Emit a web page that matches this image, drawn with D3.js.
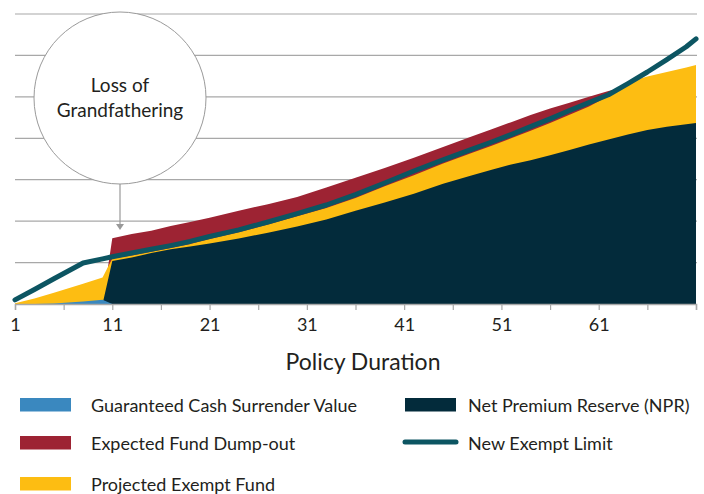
<!DOCTYPE html>
<html>
<head>
<meta charset="utf-8">
<script src="https://cdn.jsdelivr.net/npm/d3@7"></script>
<style>
  body { margin: 0; background: #fff; }
  text { font-family: "Lato", "Open Sans", sans-serif; fill: #231f20; }
</style>
</head>
<body>
<div id="chart"></div>
<script>
// policy years (x) and the values (arbitrary units, one gridline = 100)
var years      = [1, 3, 5, 8, 10, 11, 13, 15, 17, 19, 21, 24, 27, 30, 33, 36, 39, 42, 45, 48, 50, 52, 54, 56, 58, 60, 62, 64, 66, 68, 70, 71];
var dumpOut    = [0, 0, 0, 0, 0, 159, 169, 177, 188, 198, 208, 225, 241, 258, 281, 305, 328, 353, 379, 405, 422, 439, 456, 472, 486, 500, 514, 525, 543, 553, 563, 568];
var exemptFund = [2, 13, 27, 49, 64, 110, 117, 126, 135, 145, 157, 173, 192, 212, 232, 256, 284, 311, 339, 365, 382, 400, 418, 437, 457, 477, 502, 535, 549, 560, 571, 577];
var npr        = [0, 0, 0, 0, 0, 104, 112, 123, 132, 139, 146, 158, 172, 187, 204, 225, 245, 266, 290, 311, 324, 337, 347, 359, 372, 385, 397, 409, 420, 428, 434, 437];
var gcsv       = [0, 0, 1, 6, 10, 0, 0, 0, 0, 0, 0, 0, 0, 0, 0, 0, 0, 0, 0, 0, 0, 0, 0, 0, 0, 0, 0, 0, 0, 0, 0, 0];
var exemptLimit= [10, 35, 61, 99, 109, 114, 123, 132, 141, 151, 163, 179, 198, 218, 239, 264, 292, 321, 348, 374, 391, 409, 428, 447, 467, 486, 505, 532, 560, 590, 621, 640];

var gridValues = [100, 200, 300, 400, 500, 600, 700];
var tickYears  = [1, 6, 11, 16, 21, 26, 31, 36, 41, 46, 51, 56, 61, 66, 71];
var labelYears = [1, 11, 21, 31, 41, 51, 61];

var legendItems = [
  {name: "Guaranteed Cash Surrender Value", color: "#3a88bf", kind: "box", col: 0, row: 0},
  {name: "Expected Fund Dump-out", color: "#9d2333", kind: "box", col: 0, row: 1},
  {name: "Projected Exempt Fund", color: "#fdbd12", kind: "box", col: 0, row: 2},
  {name: "Net Premium Reserve (NPR)", color: "#032b3b", kind: "box", col: 1, row: 0},
  {name: "New Exempt Limit", color: "#0c5562", kind: "line", col: 1, row: 1}
];

var width = 704, height = 494;
var svg = d3.select("#chart").append("svg")
    .attr("width", width)
    .attr("height", height);

var x = d3.scaleLinear().domain([1, 71]).range([15, 696]);
var y = d3.scaleLinear().domain([0, 700]).range([304, 14]);

function rows(vals) {
  return years.map(function(yr, i) { return {yr: yr, v: vals[i]}; });
}

// gridlines
svg.append("g").selectAll("line")
  .data(gridValues).enter().append("line")
  .attr("x1", 15).attr("x2", 697)
  .attr("y1", function(d) { return y(d); })
  .attr("y2", function(d) { return y(d); })
  .attr("stroke", "#a8a8a8")
  .attr("stroke-width", 1.2);

var area = d3.area()
  .x(function(d) { return x(d.yr); })
  .y0(y(0))
  .y1(function(d) { return y(d.v); });

var series = [
  {vals: dumpOut, color: "#9d2333"},
  {vals: exemptFund, color: "#fdbd12"},
  {vals: npr, color: "#032b3b"},
  {vals: gcsv, color: "#3a88bf"}
];
svg.append("g").selectAll("path")
  .data(series).enter().append("path")
  .attr("d", function(d) { return area(rows(d.vals)); })
  .attr("fill", function(d) { return d.color; });

var line = d3.line()
  .x(function(d) { return x(d.yr); })
  .y(function(d) { return y(d.v); });

svg.append("path")
  .attr("d", line(rows(exemptLimit)))
  .attr("fill", "none")
  .attr("stroke", "#0c5562")
  .attr("stroke-width", 5)
  .attr("stroke-linecap", "round")
  .attr("stroke-linejoin", "round");

// x axis
var xAxis = d3.axisBottom(x)
  .tickValues(tickYears)
  .tickSizeOuter(0)
  .tickSize(6)
  .tickPadding(8)
  .tickFormat(function(d) { return labelYears.indexOf(d) >= 0 ? d : ""; });

var gx = svg.append("g")
  .attr("transform", "translate(0," + y(0) + ")")
  .call(xAxis);
gx.select(".domain").attr("stroke", "#a8a8a8").attr("stroke-width", 1.5);
gx.selectAll(".tick line").attr("stroke", "#a8a8a8").attr("stroke-width", 1.2);
gx.selectAll(".tick text")
  .style("font-family", "Lato, sans-serif")
  .style("font-size", "18px")
  .attr("fill", "#231f20");

svg.append("text")
  .attr("x", 363).attr("y", 370)
  .attr("text-anchor", "middle")
  .style("font-size", "23px")
  .text("Policy Duration");

// annotation bubble
var note = svg.append("g");
note.append("line")
  .attr("x1", 120).attr("x2", 120)
  .attr("y1", 184).attr("y2", 225)
  .attr("stroke", "#999").attr("stroke-width", 1.2);
note.append("path")
  .attr("d", "M116,224L124,224L120,230Z")
  .attr("fill", "#999");
note.append("circle")
  .attr("cx", 120).attr("cy", 98).attr("r", 86)
  .attr("fill", "#fff")
  .attr("stroke", "#9a9a9a")
  .attr("stroke-width", 1);
note.append("text")
  .attr("x", 120).attr("y", 92)
  .attr("text-anchor", "middle")
  .style("font-size", "19px")
  .text("Loss of");
note.append("text")
  .attr("x", 120).attr("y", 117)
  .attr("text-anchor", "middle")
  .style("font-size", "19px")
  .text("Grandfathering");

// legend
var colX = [20, 405], rowY = [405, 443, 484];
var leg = svg.append("g").selectAll("g")
  .data(legendItems).enter().append("g")
  .attr("transform", function(d) { return "translate(" + colX[d.col] + "," + rowY[d.row] + ")"; });

leg.filter(function(d) { return d.kind == "box"; }).append("rect")
  .attr("x", 0).attr("y", -7)
  .attr("width", 51).attr("height", 13.5)
  .attr("fill", function(d) { return d.color; });

leg.filter(function(d) { return d.kind == "line"; }).append("line")
  .attr("x1", 0).attr("x2", 51)
  .attr("y1", -1).attr("y2", -1)
  .attr("stroke", function(d) { return d.color; })
  .attr("stroke-width", 5)
  .attr("stroke-linecap", "round");

leg.append("text")
  .attr("x", function(d) { return d.col == 0 ? 71 : 63; })
  .attr("y", 7)
  .style("font-size", "18px")
  .text(function(d) { return d.name; });
</script>
</body>
</html>
